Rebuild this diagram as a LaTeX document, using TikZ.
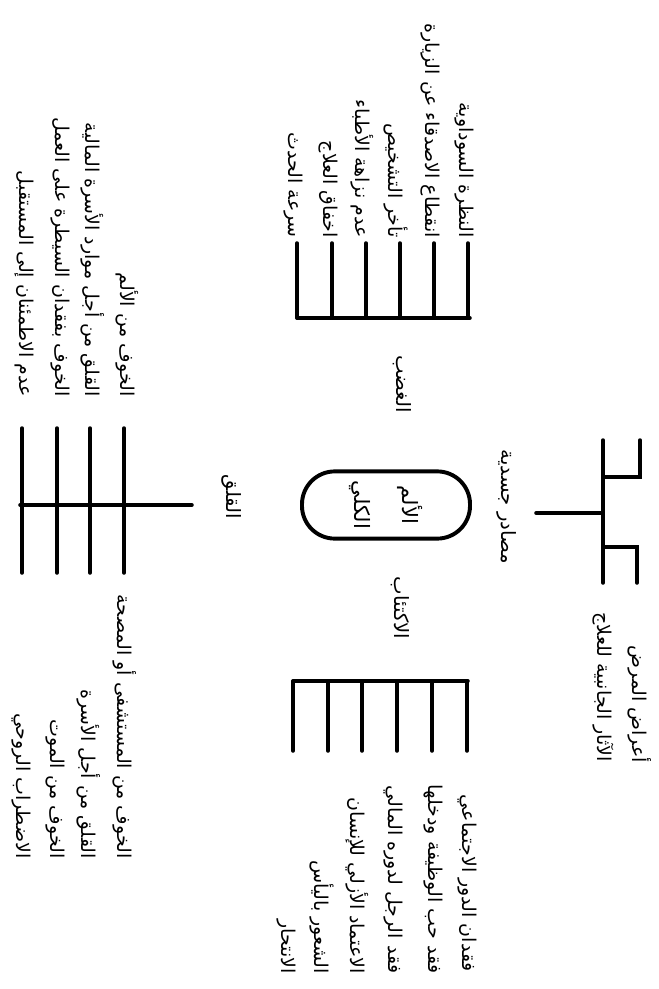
\documentclass[tikz,border=0pt]{standalone}
\usepackage{fontspec}
\usetikzlibrary{positioning}
\newfontfamily\arabicfont[Script=Arabic]{DejaVu Sans}
\TeXXeTstate=1
\newcommand{\ar}[1]{\arabicfont\beginR #1\endR}

\begin{document}
\begin{tikzpicture}[x=0.025cm, y=-0.025cm]
    \tikzstyle{bone} = [draw, line width=2.5pt, line cap=round]
    \tikzstyle{cause} = [rotate=-90, anchor=east, inner sep=0pt, font=\fontsize{13.5}{15}\selectfont]
    \tikzstyle{title} = [rotate=-90, inner sep=0pt, font=\fontsize{14}{16}\selectfont]

    \useasboundingbox (0,0) rectangle (659,989);

    % centre
    \node [draw, line width=2.8pt, rounded corners=0.82cm, rotate=-90, minimum width=1.68cm, minimum height=4.2cm, align=center, inner sep=0pt, font=\fontsize{15}{34}\selectfont] (total) at (386,505) {\ar{الألم}\\\ar{الكلي}};

    % anger
    \node [title] (anger) at (402,384) {\ar{الغضب}};
    \path [bone] (297,318) -- (470,318);
    \path [bone] (297,243) -- (297,318);
    \path [bone] (332,243) -- (332,318);
    \path [bone] (366,243) -- (366,318);
    \path [bone] (400,243) -- (400,318);
    \path [bone] (434,243) -- (434,318);
    \path [bone] (468,243) -- (468,318);
    \node [cause] (anger1) at (464,238) {\ar{النظرة السوداوية}};
    \node [cause] (anger2) at (430,238) {\ar{انقطاع الاصدقاء عن الزيارة}};
    \node [cause] (anger3) at (396,238) {\ar{تأخر التشخيص}};
    \node [cause] (anger4) at (362,238) {\ar{عدم نزاهة الأطباء}};
    \node [cause] (anger5) at (328,238) {\ar{اخفاق العلاج}};
    \node [cause] (anger6) at (293,238) {\ar{سرعة الحدث}};

    % anxiety
    \node [title] (anxiety) at (232,497) {\ar{القلق}};
    \path [bone] (20,505) -- (192,505);
    \path [bone] (22,428) -- (22,573);
    \path [bone] (57,428) -- (57,573);
    \path [bone] (90,428) -- (90,573);
    \path [bone] (124,428) -- (124,573);
    \node [cause] (anxiety1) at (127,397) {\ar{الخوف من الألم}};
    \node [cause] (anxiety2) at (93,397) {\ar{القلق من أجل موارد الأسرة المالية}};
    \node [cause] (anxiety3) at (60,397) {\ar{الخوف بفقدان السيطرة على العمل}};
    \node [cause] (anxiety4) at (24,397) {\ar{عدم الاطمئنان إلى المستقبل}};
    \node [cause] (anxiety5) at (125,859) {\ar{الخوف من المستشفى أو المصحة}};
    \node [cause] (anxiety6) at (89,859) {\ar{القلق من أجل الأسرة}};
    \node [cause] (anxiety7) at (55,859) {\ar{الخوف من الموت}};
    \node [cause] (anxiety8) at (21,859) {\ar{الاضطراب الروحي}};

    % depression
    \node [title] (depression) at (400,608) {\ar{الاكتئاب}};
    \path [bone] (293,681) -- (468,681);
    \path [bone] (293,681) -- (293,751);
    \path [bone] (328,681) -- (328,751);
    \path [bone] (362,681) -- (362,751);
    \path [bone] (397,681) -- (397,751);
    \path [bone] (432,681) -- (432,751);
    \path [bone] (467,681) -- (467,751);
    \node [cause] (depression1) at (467,972) {\ar{فقدان الدور الاجتماعي}};
    \node [cause] (depression2) at (433,974) {\ar{فقد حب الوظيفة ودخلها}};
    \node [cause] (depression3) at (393,974) {\ar{فقد الرجل لدوره المالي}};
    \node [cause] (depression4) at (357,974) {\ar{الاعتماد الأزلي للإنسان}};
    \node [cause] (depression5) at (322,974) {\ar{الشعور باليأس}};
    \node [cause] (depression6) at (286,974) {\ar{الانتحار}};

    % physical
    \node [title] (physical) at (507,507) {\ar{مصادر جسدية}};
    \path [bone] (536,513) -- (603,513);
    \path [bone] (603,440) -- (603,583);
    \path [bone] (603,477) -- (640,477) -- (640,440);
    \path [bone] (603,547) -- (637,547) -- (637,583);
    \node [cause] (physical1) at (603,762) {\ar{الآثار الجانبية للعلاج}};
    \node [cause] (physical2) at (640,763) {\ar{أعراض المرض}};
\end{tikzpicture}
\end{document}
